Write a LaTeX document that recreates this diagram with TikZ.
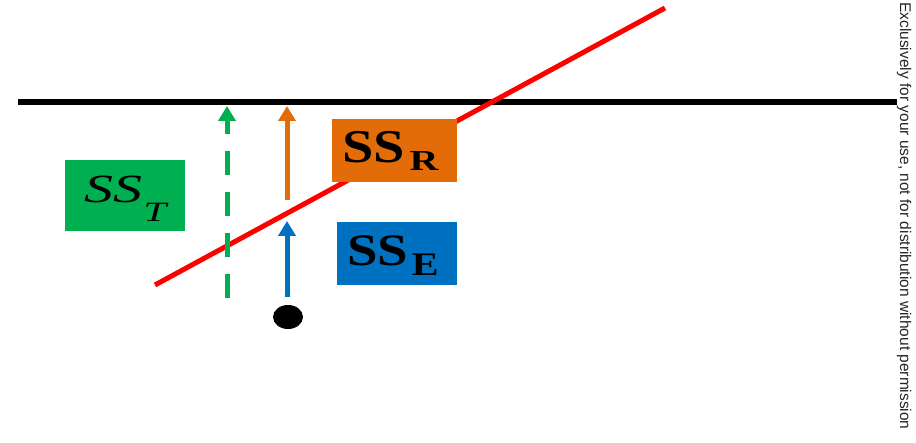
\documentclass[tikz,border=0pt]{standalone}
\usepackage{fontspec}
\setmainfont{Liberation Serif}
\newfontfamily\notefont{Liberation Sans}
\usetikzlibrary{arrows.meta,shapes.geometric}
\definecolor{cgreen}{HTML}{00B050}
\definecolor{corange}{HTML}{E36C09}
\definecolor{cblue}{HTML}{0070C0}
\definecolor{cred}{HTML}{FF0000}
\tikzset{
  arr/.style={line width=5pt,-{Triangle[width=17pt,length=15pt]}},
  lbl/.style={inner sep=0pt,anchor=base west,text=black}
}
\begin{document}
\begin{tikzpicture}[x=1pt,y=-1pt]
\useasboundingbox (0,0) rectangle (916,443);
% base line
\coordinate (bl) at (18,102);
\coordinate (br) at (897,102);
\draw[line width=5.5pt] (bl) -- (br);
% red regression line
\coordinate (r1) at (155,285);
\coordinate (r2) at (665,8);
\draw[cred,line width=5pt] (r1) -- (r2);
% point
\node[fill=black,ellipse,minimum width=30pt,minimum height=24pt,inner sep=0pt] (pt) at (288,317) {};
% arrows
\coordinate (gS) at (227,298);
\coordinate (gE) at (227,106);
\draw[arr,cgreen,dash pattern=on 24pt off 17pt] (gS) -- (gE);
\coordinate (oS) at (287,200);
\coordinate (oE) at (287,106);
\draw[arr,corange] (oS) -- (oE);
\coordinate (bS) at (287,297);
\coordinate (bE) at (287,221);
\draw[arr,cblue] (bS) -- (bE);
% boxes
\fill[cgreen] (65,160) rectangle (185,231);
\node[lbl] (sst) at (84,203) {\scalebox{1.45}[1]{\fontsize{40}{40}\selectfont\itshape SS\kern1pt\raisebox{-19pt}{\fontsize{28}{28}\selectfont T}}};
\fill[corange] (332,119) rectangle (457,182);
\node[lbl] (ssr) at (342,163) {\scalebox{1.2}[1]{\fontsize{47}{47}\selectfont\bfseries SS\kern4pt\raisebox{-8pt}{\scalebox{1.15}[1]{\fontsize{29}{29}\selectfont R}}}};
\fill[cblue] (337,222) rectangle (457,285);
\node[lbl] (sse) at (347,266) {\scalebox{1.22}[1]{\fontsize{45}{45}\selectfont\bfseries SS\kern3pt\raisebox{-10pt}{\fontsize{33}{33}\selectfont E}}};
% side note
\node[rotate=-90,inner sep=0pt,text=black!85] (note) at (904,216) {\notefont\fontsize{15.5}{15.5}\selectfont Exclusively for your use, not for distribution without permission};
\end{tikzpicture}
\end{document}
